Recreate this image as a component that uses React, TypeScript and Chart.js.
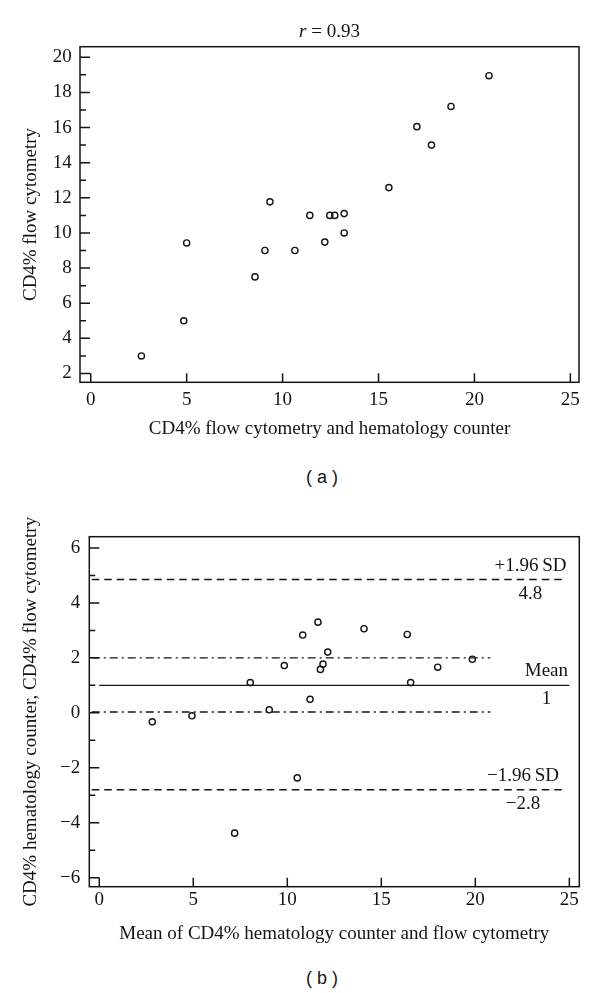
import React, { useEffect, useRef } from 'react';
import { Chart, registerables } from 'chart.js';

Chart.register(...registerables);

const SERIF = '"Liberation Serif", "Times New Roman", serif';
const SANS = '"Liberation Sans", Arial, sans-serif';
const INK = '#141414';

// ---------- Panel (a): correlation ----------
const aCombinedX = [2.64, 4.85, 5.0, 8.56, 9.08, 9.34, 10.64, 11.42, 12.2, 12.46, 12.72, 13.21, 13.21, 15.54, 17.0, 17.76, 18.78, 20.76];
const aFlowY = [3.0, 5.0, 9.43, 7.5, 9.0, 11.77, 9.0, 11.0, 9.48, 11.0, 11.0, 11.1, 10.0, 12.58, 16.05, 15.0, 17.2, 18.95];
const aXTicks = [0, 5, 10, 15, 20, 25];
const aYTicks = [2, 4, 6, 8, 10, 12, 14, 16, 18, 20];
const aTitleParts = ['r', ' = 0.93'];
const aXTitle = 'CD4% flow cytometry and hematology counter';
const aYTitle = 'CD4% flow cytometry';

// ---------- Panel (b): Bland-Altman ----------
const bMeanX = [2.82, 4.93, 7.2, 8.03, 9.04, 9.84, 10.53, 10.82, 11.21, 11.63, 11.76, 11.9, 12.15, 14.08, 16.38, 16.56, 18.0, 19.84];
const bDiffY = [-0.33, -0.11, -4.38, 1.1, 0.11, 1.72, -2.37, 2.83, 0.49, 3.3, 1.58, 1.77, 2.21, 3.06, 2.85, 1.1, 1.66, 1.95];
const bXTicks = [0, 5, 10, 15, 20, 25];
const bYTicks = [-6, -4, -2, 0, 2, 4, 6];
const bUpperLimit = 4.85;
const bLowerLimit = -2.8;
const bMean = 1;
const bCiUpper = 2.0;
const bCiLower = 0.03;
const bLimitSpan = [-0.4, 24.8];
const bMeanSpan = [0, 25];
const bCiSpan = [-0.4, 20.8];
const bRefNames = ['+1.96\u2009SD', 'Mean', '\u22121.96\u2009SD'];
const bRefNumbers = ['4.8', '1', '\u22122.8'];
const bRefLevels = [bUpperLimit, bMean, bLowerLimit];
const bRefRight = [24.85, 24.93, 24.45];
const bXTitle = 'Mean of CD4% hematology counter and flow cytometry';
const bYTitle = 'CD4% hematology counter, CD4% flow cytometry';

const fmt = (v: number) => (v < 0 ? '\u2212' + Math.abs(v) : String(v));

const framePlugin = {
  id: 'frameTicks',
  afterDatasetsDraw(chart: any) {
    const { ctx, chartArea: a, scales } = chart;
    const xs = scales.x;
    const ys = scales.y;
    ctx.save();
    ctx.strokeStyle = INK;
    ctx.lineWidth = 1.5;
    ctx.strokeRect(a.left, a.top, a.right - a.left, a.bottom - a.top);
    ctx.beginPath();
    const yt = ys.ticks.map((t: any) => t.value);
    yt.forEach((v: number) => {
      const p = ys.getPixelForValue(v);
      ctx.moveTo(a.left, p);
      ctx.lineTo(a.left + 10, p);
    });
    for (let i = 0; i < yt.length - 1; i++) {
      const p = ys.getPixelForValue((yt[i] + yt[i + 1]) / 2);
      ctx.moveTo(a.left, p);
      ctx.lineTo(a.left + 6, p);
    }
    xs.ticks.forEach((t: any) => {
      const p = xs.getPixelForValue(t.value);
      ctx.moveTo(p, a.bottom);
      ctx.lineTo(p, a.bottom - 9);
    });
    ctx.stroke();
    ctx.restore();
  },
};

const mixedTitlePlugin = {
  id: 'mixedTitle',
  afterDraw(chart: any, _args: any, opts: any) {
    if (!opts || !opts.parts) return;
    const { ctx, chartArea: a } = chart;
    ctx.save();
    ctx.fillStyle = INK;
    ctx.textBaseline = 'middle';
    ctx.textAlign = 'left';
    const fonts = opts.parts.map((_: string, i: number) => (i === 0 ? `italic 19px ${SERIF}` : `19px ${SERIF}`));
    const widths = opts.parts.map((p: string, i: number) => {
      ctx.font = fonts[i];
      return ctx.measureText(p).width;
    });
    const total = widths.reduce((s: number, w: number) => s + w, 0);
    let x = (a.left + a.right) / 2 - total / 2;
    opts.parts.forEach((p: string, i: number) => {
      ctx.font = fonts[i];
      ctx.fillText(p, x, opts.y);
      x += widths[i];
    });
    ctx.restore();
  },
};

const refLabelPlugin = {
  id: 'refLabels',
  afterDatasetsDraw(chart: any, _args: any, opts: any) {
    if (!opts || !opts.names) return;
    const { ctx, scales } = chart;
    ctx.save();
    ctx.fillStyle = INK;
    ctx.font = `19px ${SERIF}`;
    ctx.textBaseline = 'middle';
    opts.names.forEach((name: string, i: number) => {
      const py = scales.y.getPixelForValue(opts.levels[i]);
      const right = scales.x.getPixelForValue(opts.right[i]);
      const w = ctx.measureText(name).width;
      ctx.textAlign = 'right';
      ctx.fillText(name, right, py - 14);
      ctx.textAlign = 'center';
      ctx.fillText(opts.numbers[i], right - w / 2, py + 14);
    });
    ctx.restore();
  },
};

const pointStyle = {
  pointRadius: 3.1,
  pointHoverRadius: 3.1,
  pointBorderWidth: 1.4,
  pointBorderColor: INK,
  pointBackgroundColor: 'rgba(0,0,0,0)',
  showLine: false,
};

const tickFont = { family: SERIF, size: 19 };

function lineSet(xs: number[], yv: number, dash: number[]) {
  return {
    data: xs.map((x) => ({ x, y: yv })),
    showLine: true,
    borderColor: INK,
    borderWidth: 1.4,
    borderDash: dash,
    pointRadius: 0,
    pointHoverRadius: 0,
    fill: false,
  };
}

function makeConfigA(h: number) {
  return {
    type: 'scatter',
    data: {
      datasets: [
        { data: aCombinedX.map((x, i) => ({ x, y: aFlowY[i] })), ...pointStyle },
      ],
    },
    options: {
      responsive: false,
      animation: false,
      devicePixelRatio: 1,
      layout: { padding: { top: 46.7, right: 21, left: 0, bottom: 0 } },
      plugins: {
        legend: { display: false },
        tooltip: { enabled: false },
        mixedTitle: { parts: aTitleParts, y: 32 },
      },
      scales: {
        x: {
          type: 'linear',
          min: -0.56,
          max: 25.45,
          afterBuildTicks: (s: any) => { s.ticks = aXTicks.map((v) => ({ value: v })); },
          afterFit: (s: any) => { s.height = h - 382.3; },
          grid: { display: false, drawTicks: false },
          border: { display: false },
          ticks: { autoSkip: false, maxRotation: 0, padding: 6.3, color: INK, font: tickFont, callback: (v: any) => fmt(Number(v)) },
          title: { display: true, text: aXTitle, color: INK, font: tickFont, padding: { top: 0, bottom: 9.6 } },
        },
        y: {
          type: 'linear',
          min: 1.5,
          max: 20.6,
          afterBuildTicks: (s: any) => { s.ticks = aYTicks.map((v) => ({ value: v })); },
          afterFit: (s: any) => { s.width = 80; },
          grid: { display: false, drawTicks: false },
          border: { display: false },
          ticks: { autoSkip: false, padding: 8.3, color: INK, font: tickFont, callback: (v: any) => fmt(Number(v)) },
          title: { display: true, text: aYTitle, color: INK, font: tickFont, padding: { top: 19.6, bottom: 0 } },
        },
      },
    },
    plugins: [framePlugin, mixedTitlePlugin],
  };
}

function makeConfigB(h: number) {
  return {
    type: 'scatter',
    data: {
      datasets: [
        lineSet(bLimitSpan, bUpperLimit, [7.5, 5]),
        lineSet(bLimitSpan, bLowerLimit, [7.5, 5]),
        lineSet(bCiSpan, bCiUpper, [8, 4, 2, 4]),
        lineSet(bCiSpan, bCiLower, [8, 4, 2, 4]),
        lineSet(bMeanSpan, bMean, []),
        { data: bMeanX.map((x, i) => ({ x, y: bDiffY[i] })), ...pointStyle },
      ],
    },
    options: {
      responsive: false,
      animation: false,
      devicePixelRatio: 1,
      layout: { padding: { top: 41.7, right: 20.7, left: 0, bottom: 0 } },
      plugins: {
        legend: { display: false },
        tooltip: { enabled: false },
        refLabels: { names: bRefNames, numbers: bRefNumbers, levels: bRefLevels, right: bRefRight },
      },
      scales: {
        x: {
          type: 'linear',
          min: -0.53,
          max: 25.53,
          afterBuildTicks: (s: any) => { s.ticks = bXTicks.map((v) => ({ value: v })); },
          afterFit: (s: any) => { s.height = h - 391.7; },
          grid: { display: false, drawTicks: false },
          border: { display: false },
          ticks: { autoSkip: false, maxRotation: 0, padding: 1.9, color: INK, font: tickFont, callback: (v: any) => fmt(Number(v)) },
          title: { display: true, text: bXTitle, color: INK, font: tickFont, padding: { top: 0, bottom: 14.6 } },
        },
        y: {
          type: 'linear',
          min: -6.33,
          max: 6.41,
          afterBuildTicks: (s: any) => { s.ticks = bYTicks.map((v) => ({ value: v })); },
          afterFit: (s: any) => { s.width = 89.3; },
          grid: { display: false, drawTicks: false },
          border: { display: false },
          ticks: { autoSkip: false, padding: 9, color: INK, font: tickFont, callback: (v: any) => fmt(Number(v)) },
          title: { display: true, text: bYTitle, color: INK, font: tickFont, padding: { top: 19.6, bottom: 0 } },
        },
      },
    },
    plugins: [framePlugin, refLabelPlugin],
  };
}

function ChartCanvas({ make, width, height, top }: { make: (h: number) => any; width: number; height: number; top: number }) {
  const ref = useRef<HTMLCanvasElement | null>(null);
  useEffect(() => {
    if (!ref.current) return;
    const chart = new Chart(ref.current, make(height));
    return () => chart.destroy();
  }, [make, height]);
  return (
    <canvas
      ref={ref}
      width={width}
      height={height}
      style={{ position: 'absolute', left: 0, top, width, height, display: 'block' }}
    />
  );
}

const captionStyle = (top: number): React.CSSProperties => ({
  position: 'absolute',
  left: 0,
  width: 644,
  top,
  textAlign: 'center',
  fontFamily: SANS,
  fontSize: 18,
  lineHeight: '20px',
  color: INK,
  whiteSpace: 'pre',
});

export default function App() {
  return (
    <div style={{ position: 'absolute', left: 0, top: 0, width: 600, height: 993, background: '#fff', overflow: 'hidden' }}>
      <ChartCanvas make={makeConfigA} width={600} height={450} top={0} />
      <div style={captionStyle(467)}>{'( a )'}</div>
      <ChartCanvas make={makeConfigB} width={600} height={465} top={495} />
      <div style={captionStyle(968)}>{'( b )'}</div>
    </div>
  );
}
